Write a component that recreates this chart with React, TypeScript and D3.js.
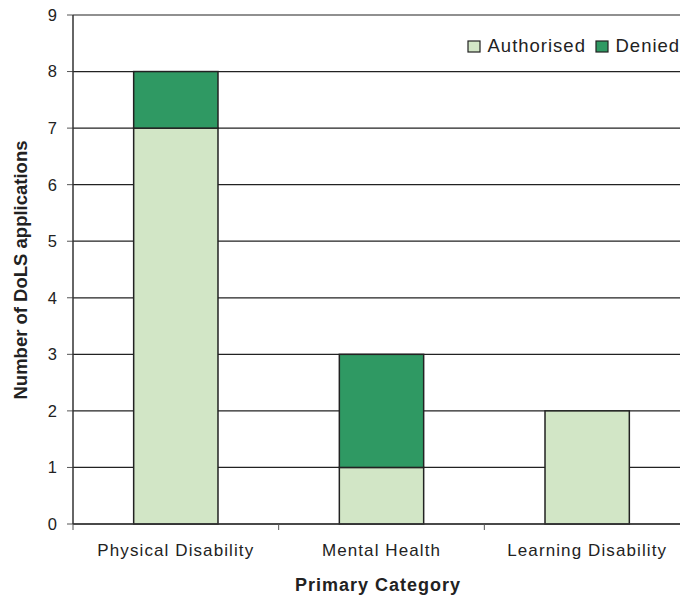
import React from "react";
import * as d3 from "d3";

const categories = ["Physical Disability", "Mental Health", "Learning Disability"];
const authorised = [7, 1, 2];
const denied = [1, 2, 0];
const seriesNames = ["Authorised", "Denied"];
const seriesColors = ["#d2e6c6", "#2f9963"];
const yTicks = [0, 1, 2, 3, 4, 5, 6, 7, 8, 9];

export default function App() {
  const W = 680, H = 598;
  const left = 73, right = 690, top = 15, bottom = 524;
  const x = d3.scaleBand().domain(categories).range([left, right]).paddingInner(0).paddingOuter(0);
  const y = d3.scaleLinear().domain([0, 9]).range([bottom, top]);
  const bw = x.bandwidth() * 0.41;
  const rows = categories.map((c, i) => ({ cat: c, Authorised: authorised[i], Denied: denied[i] }));
  const stack = d3.stack<any>().keys(seriesNames)(rows);
  const font = "'Liberation Sans', Arial, sans-serif";
  const boundaries = [...categories.map((c) => x(c)!), right];

  return (
    <svg width={W} height={H} style={{ position: "absolute", left: 0, top: 0 }} fontFamily={font}>
      <rect width={W} height={H} fill="#fff" />
      {yTicks.map((t) => (
        <g key={t}>
          <line x1={left} x2={right} y1={y(t)} y2={y(t)} stroke="#222" strokeWidth={1.2} />
          <line x1={left - 6} x2={left} y1={y(t)} y2={y(t)} stroke="#555" strokeWidth={1} />
          <text x={left - 16} y={y(t)} dy="0.36em" textAnchor="end" fontSize={16.5} fill="#222">{t}</text>
        </g>
      ))}
      {stack.map((s, si) =>
        s.map((d, i) =>
          d[1] > d[0] ? (
            <rect
              key={si + "-" + i}
              x={x(categories[i])! + (x.bandwidth() - bw) / 2}
              y={y(d[1])}
              width={bw}
              height={y(d[0]) - y(d[1])}
              fill={seriesColors[si]}
              stroke="#222"
              strokeWidth={1.5}
            />
          ) : null
        )
      )}
      <line x1={left} x2={left} y1={top} y2={bottom} stroke="#333" strokeWidth={1.5} />
      <line x1={left} x2={right} y1={bottom} y2={bottom} stroke="#333" strokeWidth={1.5} />
      {boundaries.map((b, i) => (
        <line key={i} x1={b} x2={b} y1={bottom} y2={bottom + 6} stroke="#555" strokeWidth={1} />
      ))}
      {categories.map((c) => (
        <text key={c} x={x(c)! + x.bandwidth() / 2} y={556} textAnchor="middle" fontSize={17} letterSpacing={1.1} fill="#222">{c}</text>
      ))}
      <text x={378} y={591} textAnchor="middle" fontSize={18} fontWeight="bold" letterSpacing={1} fill="#222">Primary Category</text>
      <text transform="translate(27,270) rotate(-90)" textAnchor="middle" fontSize={18.5} fontWeight="bold" fill="#222">Number of DoLS applications</text>
      {seriesNames.map((n, i) => {
        const lx = [468, 596][i];
        return (
          <g key={n}>
            <rect x={lx} y={41} width={12} height={11} fill={seriesColors[i]} stroke="#222" strokeWidth={1.2} />
            <text x={lx + 19.5} y={51.5} fontSize={18.5} letterSpacing={1} fill="#222">{n}</text>
          </g>
        );
      })}
    </svg>
  );
}
